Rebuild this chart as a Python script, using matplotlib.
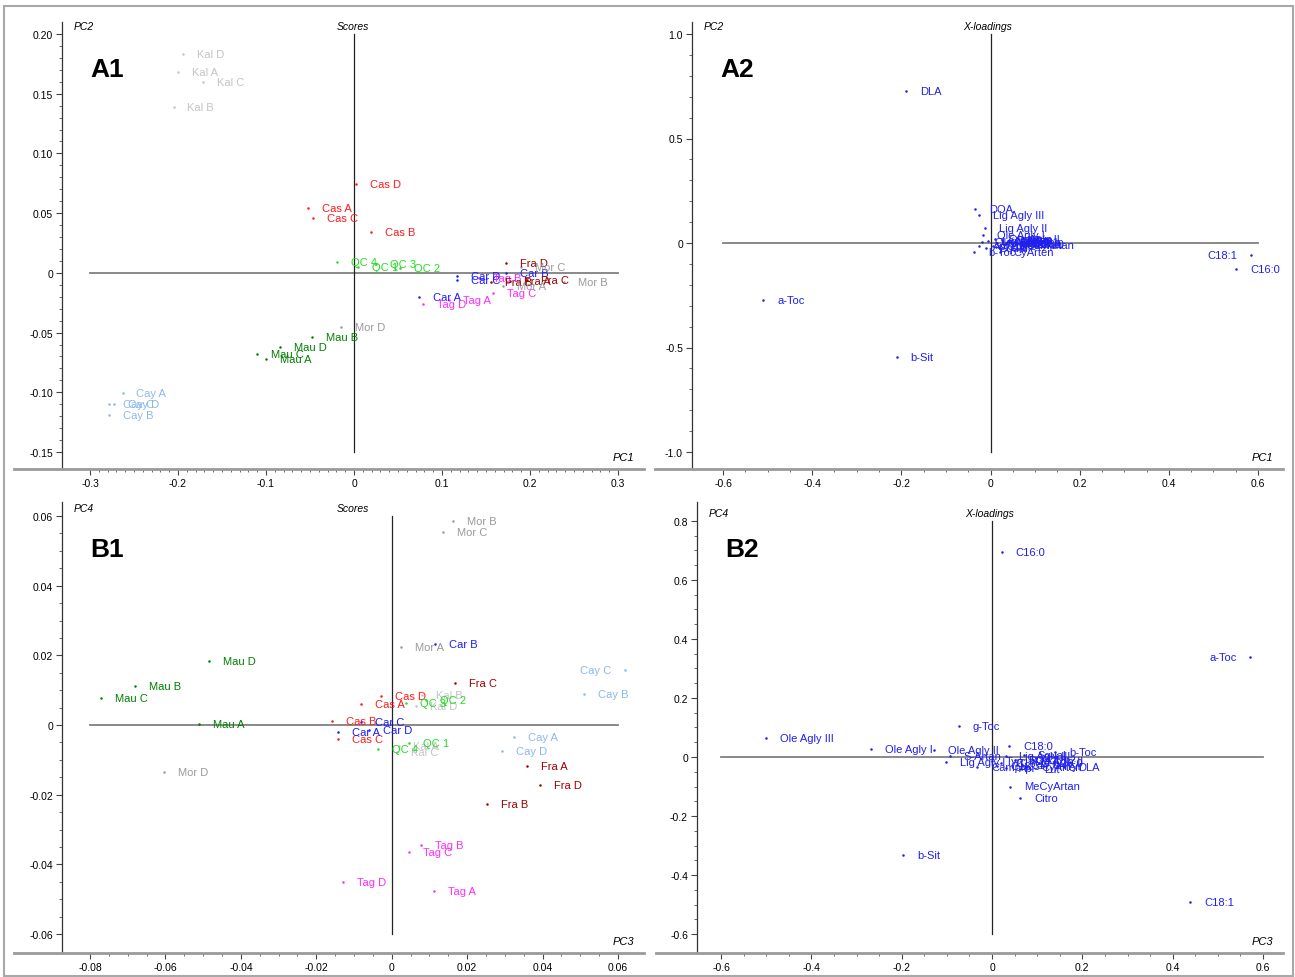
import numpy as np
import matplotlib
matplotlib.use('Agg')
import matplotlib.pyplot as plt
from matplotlib.patches import Rectangle

plt.rcParams['font.family'] = ['Liberation Sans', 'DejaVu Sans']

W, H = 1295, 978

# --- scores (samples) ---
sample_names = ['Kal A', 'Kal B', 'Kal C', 'Kal D',
                'Cas A', 'Cas B', 'Cas C', 'Cas D',
                'QC 1', 'QC 2', 'QC 3', 'QC 4',
                'Car A', 'Car B', 'Car C', 'Car D',
                'Tag A', 'Tag B', 'Tag C', 'Tag D',
                'Fra A', 'Fra B', 'Fra C', 'Fra D',
                'Mor A', 'Mor B', 'Mor C', 'Mor D',
                'Mau A', 'Mau B', 'Mau C', 'Mau D',
                'Cay A', 'Cay B', 'Cay C', 'Cay D']
score_pc1 = [-0.200, -0.205, -0.172, -0.194,
             -0.052, 0.019, -0.047, 0.002,
             0.005, 0.052, 0.025, -0.019,
             0.074, 0.173, 0.117, 0.117,
             0.108, 0.142, 0.158, 0.078,
             0.177, 0.156, 0.197, 0.173,
             0.169, 0.239, 0.190, -0.015,
             -0.100, -0.048, -0.110, -0.084,
             -0.263, -0.278, -0.278, -0.273]
score_pc2 = [0.168, 0.139, 0.160, 0.183,
             0.054, 0.034, 0.046, 0.074,
             0.005, 0.004, 0.007, 0.009,
             -0.020, 0.000, -0.006, -0.0025,
             -0.023, -0.004, -0.017, -0.026,
             -0.007, -0.008, -0.006, 0.008,
             -0.011, -0.008, 0.005, -0.045,
             -0.072, -0.054, -0.068, -0.062,
             -0.101, -0.119, -0.110, -0.110]
score_pc3 = [0.0019, 0.0080, 0.0014, 0.0064,
             -0.0081, -0.0158, -0.0142, -0.0029,
             0.0046, 0.0091, 0.0038, -0.0036,
             -0.0142, 0.0115, -0.0081, -0.0060,
             0.0112, 0.0078, 0.0046, -0.0129,
             0.0359, 0.0253, 0.0168, 0.0393,
             0.0025, 0.0162, 0.0137, -0.0604,
             -0.0511, -0.0680, -0.0771, -0.0484,
             0.0324, 0.0510, 0.0619, 0.0292]
score_pc4 = [-0.0060, 0.0086, -0.0077, 0.0055,
             0.0060, 0.0011, -0.0040, 0.0083,
             -0.0052, 0.0072, 0.0063, -0.0069,
             -0.0021, 0.0233, 0.0008, -0.0014,
             -0.0477, -0.0345, -0.0365, -0.0451,
             -0.0118, -0.0227, 0.0121, -0.0172,
             0.0224, 0.0585, 0.0553, -0.0135,
             0.0003, 0.0112, 0.0078, 0.0184,
             -0.0034, 0.0089, 0.0158, -0.0075]

group_colors = {'Kal': '#c4c4c4', 'Cas': '#ff1a1a', 'QC': '#22dd22',
                'Car': '#1a1aff', 'Tag': '#ff2bff', 'Fra': '#990000',
                'Mor': '#9a9a9a', 'Mau': '#008000', 'Cay': '#8ab8ea'}

# --- X-loadings (variables) ---
var_names = ['C16:0', 'C18:1', 'DLA', 'a-Toc', 'b-Sit', 'DOA',
             'Lig Agly III', 'Lig Agly II', 'Lig Agly I',
             'Ole Agly I', 'Ole Agly II', 'Ole Agly III',
             'C18:0', 'b-Toc', 'g-Toc', 'CyArten', 'MeCyArtan', 'Citro',
             'Camph', 'S-Artan', 'C16:1', 'C17:0', 'C18:2', 'C18:3',
             'C20:0', 'Squal', 'Tyr', 'HTyr', 'Api', 'Lut']
load_pc1 = [0.551, 0.584, -0.190, -0.510, -0.210, -0.035,
            -0.026, -0.012, -0.005,
            -0.017, 0.010, -0.020,
            0.068, -0.037, 0.015, 0.021, 0.030, 0.045,
            0.050, 0.025, 0.055, 0.060, 0.005, 0.040,
            0.035, -0.010, 0.020, 0.048, -0.025, 0.012]
load_pc2 = [-0.124, -0.057, 0.727, -0.273, -0.545, 0.163,
            0.134, 0.072, 0.010,
            0.038, 0.020, 0.005,
            -0.005, -0.043, 0.000, -0.043, -0.010, 0.002,
            -0.008, 0.012, 0.003, -0.004, -0.015, 0.008,
            -0.002, -0.025, -0.020, 0.015, -0.012, -0.018]
load_pc3 = [0.022, 0.439, 0.160, 0.572, -0.197, 0.050,
            0.030, 0.065, -0.102,
            -0.268, -0.129, -0.501,
            0.038, 0.140, -0.073, 0.078, 0.040, 0.062,
            -0.033, -0.093, 0.020, 0.055, 0.090, 0.010,
            0.105, 0.070, 0.000, 0.115, 0.030, 0.085]
load_pc4 = [0.695, -0.492, -0.034, 0.339, -0.332, -0.010,
            0.005, -0.015, -0.017,
            0.027, 0.024, 0.064,
            0.037, 0.017, 0.105, -0.034, -0.100, -0.139,
            -0.034, 0.003, -0.020, -0.028, -0.010, -0.030,
            -0.022, 0.008, -0.012, -0.030, -0.038, -0.040]
load_color = '#1f1fee'

fig = plt.figure(figsize=(W / 100, H / 100), dpi=100)


def fig_text(px, py, s, **kw):
    fig.text(px / W, 1 - py / H, s, **kw)


def fmt(v, d):
    if abs(v) < 1e-9:
        return '0'
    return f'{v:.{d}f}'


def make_panel(box, spine_px, xcal, ycal, xstep, xminor, ystep, yminor, xdec, ydec):
    left, top, right, bottom = box
    px0, v0, px1, v1 = xcal
    sx = (px1 - px0) / (v1 - v0)
    xmin = v0 - (px0 - left) / sx
    xmax = v1 + (right - px1) / sx
    py0, w0, py1, w1 = ycal
    sy = (py1 - py0) / (w0 - w1)
    ymax = w0 + (py0 - top) / sy
    ymin = w1 - (bottom - py1) / sy

    ax = fig.add_axes([left / W, 1 - bottom / H, (right - left) / W, (bottom - top) / H])
    ax.set_xlim(xmin, xmax)
    ax.set_ylim(ymin, ymax)
    ax.patch.set_alpha(0)
    for s in ('top', 'right'):
        ax.spines[s].set_visible(False)
    ax.spines['left'].set_position(('data', xmin + (spine_px - left) / sx))
    ax.spines['left'].set_color('#333333')
    ax.spines['left'].set_linewidth(0.9)
    ax.spines['bottom'].set_color('#9a9a9a')
    ax.spines['bottom'].set_linewidth(2)

    xt = np.round(np.arange(v0, v1 + xstep / 2, xstep), 6)
    yt = np.round(np.arange(w1, w0 + ystep / 2, ystep), 6)
    ax.set_xticks(xt)
    ax.set_xticklabels([fmt(v, xdec) for v in xt])
    ax.set_yticks(yt)
    ax.set_yticklabels([fmt(v, ydec) for v in yt])
    ax.set_xticks(np.arange(v0, v1 + xminor / 2, xminor), minor=True)
    ax.set_yticks(np.arange(w1, w0 + yminor / 2, yminor), minor=True)
    ax.tick_params(which='major', direction='out', length=4.5, width=0.8,
                   color='#444444', labelsize=7.5, pad=2)
    ax.tick_params(which='minor', direction='out', length=2, width=0.7,
                   color='#666666')

    # crosshair through the origin
    ax.plot([xt[0], xt[-1]], [0, 0], color='#808080', lw=1.3, zorder=1)
    ax.plot([0, 0], [yt[0], yt[-1]], color='#222222', lw=0.9, zorder=1)
    return ax


def add_points(ax, names, xs, ys, colors):
    anns = []
    for n, x, y, c in zip(names, xs, ys, colors):
        ax.plot(x, y, '.', ms=1.6, color=c, zorder=3)
        a = ax.annotate(n, (x, y), xytext=(10, 0), textcoords='offset points',
                        va='center', ha='left', fontsize=8, color=c, zorder=4)
        anns.append(a)
    return anns


def label_panel(box, spine_px, title, xlab, ylab, letter, ty):
    left, top, right, bottom = box
    fig_text(spine_px + 12, ty, ylab, fontsize=7.5, style='italic', va='center')
    fig_text((spine_px + right) / 2, ty, title, fontsize=7.5, style='italic',
             va='center', ha='center')
    fig_text(right - 10, bottom - 12, xlab, fontsize=8, style='italic',
             va='center', ha='right')
    fig_text(spine_px + 28, top + 47, letter, fontsize=19, fontweight='bold',
             va='center', ha='left')


sample_colors = [group_colors[n.split()[0]] for n in sample_names]

boxA1 = (14, 23, 644, 470)
boxA2 = (655, 23, 1283, 470)
boxB1 = (14, 503, 644, 954)
boxB2 = (656, 503, 1283, 954)

axA1 = make_panel(boxA1, 62, (90, -0.3, 618, 0.3), (35, 0.20, 453, -0.15),
                  0.1, 0.01, 0.05, 0.01, 1, 2)
axA2 = make_panel(boxA2, 692, (723, -0.6, 1258, 0.6), (35, 1.0, 453, -1.0),
                  0.2, 0.05, 0.5, 0.1, 1, 1)
axB1 = make_panel(boxB1, 62, (90, -0.08, 618, 0.06), (517, 0.06, 935, -0.06),
                  0.02, 0.005, 0.02, 0.005, 2, 2)
axB2 = make_panel(boxB2, 697, (721, -0.6, 1263, 0.6), (522, 0.8, 935, -0.6),
                  0.2, 0.05, 0.2, 0.05, 1, 1)

anns = []
anns += [(axA1, a) for a in add_points(axA1, sample_names, score_pc1, score_pc2, sample_colors)]
anns += [(axB1, a) for a in add_points(axB1, sample_names, score_pc3, score_pc4, sample_colors)]
anns += [(axA2, a) for a in add_points(axA2, var_names, load_pc1, load_pc2, [load_color] * len(var_names))]
anns += [(axB2, a) for a in add_points(axB2, var_names, load_pc3, load_pc4, [load_color] * len(var_names))]

label_panel(boxA1, 62, 'Scores', 'PC1', 'PC2', 'A1', 27)
label_panel(boxA2, 692, 'X-loadings', 'PC1', 'PC2', 'A2', 27)
label_panel(boxB1, 62, 'Scores', 'PC3', 'PC4', 'B1', 509)
label_panel(boxB2, 697, 'X-loadings', 'PC3', 'PC4', 'B2', 514)

# labels that would run past the right end go to the left of their point
fig.canvas.draw()
renderer = fig.canvas.get_renderer()
for ax, a in anns:
    if a.get_window_extent(renderer).x1 > ax.get_window_extent(renderer).x1:
        a.set_position((-10, 0))
        a.set_ha('right')

fig.add_artist(Rectangle((4 / W, 1 - 977 / H), 1289 / W, 970 / H,
                         transform=fig.transFigure, fill=False,
                         edgecolor='#a8a8a8', lw=1.5))

fig.savefig('out.png', dpi=100)
plt.close(fig)
